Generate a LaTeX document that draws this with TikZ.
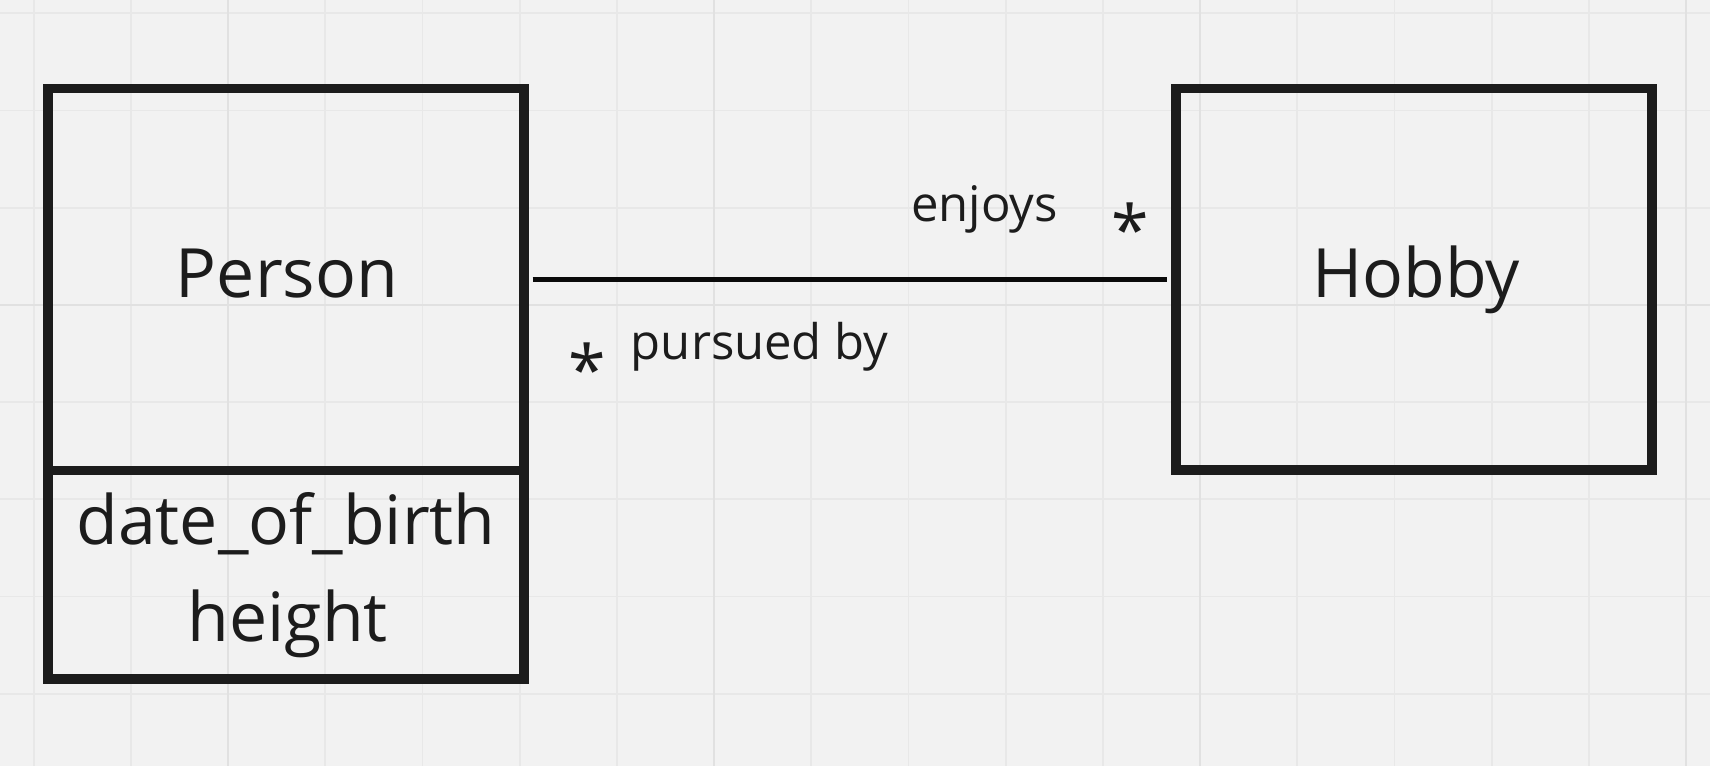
\documentclass[tikz,border=0pt]{standalone}
\usepackage{fontspec}
\setmainfont{Open Sans}
\definecolor{bgcol}{HTML}{F2F2F2}
\definecolor{gridcol}{HTML}{E8E8E8}
\definecolor{gridcoldark}{HTML}{E1E1E1}
\definecolor{inkcol}{HTML}{1C1C1C}
\definecolor{linecol}{HTML}{0A0A0A}
\tikzset{
  umlbox/.style={draw=inkcol, line width=4.65pt, rectangle, minimum width=238pt, inner sep=0pt, outer sep=auto},
  bigtext/.style={anchor=base, inner sep=0pt, text=inkcol, font=\fontsize{34pt}{40pt}\selectfont},
  labeltext/.style={anchor=base west, inner sep=0pt, text=inkcol, font=\fontsize{24.5pt}{29pt}\selectfont},
  startext/.style={anchor=base, inner sep=0pt, text=inkcol, font=\fontsize{34pt}{40pt}\selectfont},
  assoc/.style={draw=linecol, line width=2.3pt, shorten <=2pt, shorten >=2pt},
}
\begin{document}
\begin{tikzpicture}[x=0.5pt,y=-0.5pt]
  \fill[bgcol] (0,0) rectangle (1710,766);
  \useasboundingbox (0,0) rectangle (1710,766);
  % grid
  \foreach \i in {0,...,17}{
    \draw[gridcol, line width=0.9pt] ({33.7+97.2*\i},0) -- ({33.7+97.2*\i},766);
  }
  \foreach \j in {0,...,7}{
    \draw[gridcol, line width=0.9pt] (0,{13.3+97.2*\j}) -- (1710,{13.3+97.2*\j});
  }
  \foreach \i in {2,7,12,17}{
    \draw[gridcoldark, line width=0.9pt] ({33.7+97.2*\i},0) -- ({33.7+97.2*\i},766);
  }
  \draw[gridcoldark, line width=0.9pt] (0,304.9) -- (1710,304.9);

  % boxes
  \node[umlbox, minimum height=191pt] (person) at (286.05,279.4) {};
  \node[umlbox, minimum height=104.25pt] (personattr) at (286.05,574.8) {};
  \node[umlbox, minimum height=190.65pt] (hobby) at (1414,279.4) {};

  % texts
  \node[bigtext] (personname) at (287,297.7) {Person};
  \node[bigtext] (attr1) at (286,544.3) {date\_of\_birth};
  \node[bigtext] (attr2) at (287.7,641.3) {height};
  \node[bigtext] (hobbyname) at (1416,297.7) {Hobby};

  % association
  \draw[assoc] (person.east) -- (hobby.west);
  \node[labeltext] (enjoys) at (911,221) {enjoys};
  \node[labeltext] (pursued) at (630.5,359) {pursued by};
  \node[startext] (starhobby) at (1130.5,254) {*};
  \node[startext] (starperson) at (587,394) {*};
\end{tikzpicture}
\end{document}
